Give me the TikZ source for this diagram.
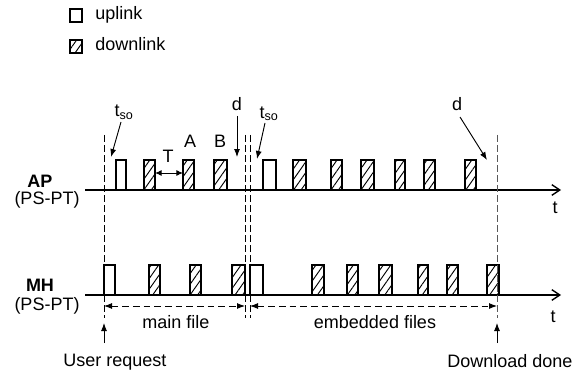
\documentclass[tikz,border=0pt]{standalone}
\usepackage{fontspec}
\setmainfont{Liberation Sans}
\usetikzlibrary{arrows.meta,patterns.meta}
\begin{document}
\begin{tikzpicture}[x=0.75pt,y=-0.75pt,
  font=\fontsize{13.5}{16}\selectfont,
  upbox/.style={draw, line width=0.9pt, fill=white},
  downbox/.style={draw, line width=0.9pt, fill=white,
    postaction={pattern={Lines[angle=55,distance=4.6pt,line width=0.7pt]}}},
  timeaxis/.style={line width=1.3pt, -{Straight Barb[length=6pt,width=8pt,line width=1pt]}},
  marker/.style={line width=0.7pt, dash pattern=on 5pt off 2.5pt},
  pointer/.style={line width=0.7pt, -{Latex[length=6pt,width=4.5pt]}},
  span/.style={line width=0.7pt, dash pattern=on 5pt off 3pt,
    {Latex[length=6pt,width=4.5pt]}-{Latex[length=6pt,width=4.5pt]}},
  lbl/.style={inner sep=0pt, anchor=base},
]
\useasboundingbox (0,0) rectangle (588,374);

% legend
\draw[upbox] (70,9) rectangle (82,22);
\node[lbl, anchor=base west] (lup) at (95,20) {uplink};
\draw[downbox] (70,40) rectangle (82,53);
\node[lbl, anchor=base west] (ldown) at (95,51) {downlink};

% station labels
\node[lbl] (ap) at (40,187) {\bfseries AP};
\node[lbl] (apsub) at (47,204) {(PS-PT)};
\node[lbl] (mh) at (40,291) {\bfseries MH};
\node[lbl] (mhsub) at (47,310) {(PS-PT)};

% time axes
\coordinate (apstart) at (85,190);
\coordinate (apend) at (561,190);
\coordinate (mhstart) at (85,295);
\coordinate (mhend) at (561,295);
\draw[timeaxis] (apstart) -- (apend);
\draw[timeaxis] (mhstart) -- (mhend);
\node[lbl] (apt) at (555,213) {t};
\node[lbl] (mht) at (553,322) {t};

% AP frames
\foreach \a/\b in {116/126, 263/276}
  \draw[upbox] (\a,160) rectangle (\b,190);
\foreach \a/\b in {144/155, 183/194, 214/227, 293/306, 331/342, 361/374, 395/405, 424/435, 465/476}
  \draw[downbox] (\a,160) rectangle (\b,190);

% MH frames
\foreach \a/\b in {104/115, 250/263}
  \draw[upbox] (\a,265) rectangle (\b,295);
\foreach \a/\b in {149/160, 190/201, 232/245, 312/324, 347/358, 379/392, 418/428, 447/458, 487/499}
  \draw[downbox] (\a,265) rectangle (\b,295);

% phase boundaries
\coordinate (m1t) at (104,135); \coordinate (m1b) at (104,318);
\coordinate (m2t) at (245,135); \coordinate (m2b) at (245,318);
\coordinate (m3t) at (250,135); \coordinate (m3b) at (250,318);
\coordinate (m4t) at (497,135); \coordinate (m4b) at (497,318);
\draw[marker] (m1t) -- (m1b);
\draw[marker] (m2t) -- (m2b);
\draw[marker] (m3t) -- (m3b);
\draw[marker, black!65] (m4t) -- (m4b);

% intervals
\coordinate (s1a) at (104,306); \coordinate (s1b) at (245,306);
\coordinate (s2a) at (250,306); \coordinate (s2b) at (497,306);
\draw[span] (s1a) -- (s1b);
\draw[span] (s2a) -- (s2b);
\node[lbl] (mainf) at (176,328) {main file};
\node[lbl] (embf) at (375,328) {embedded files};

% frame spacing and labels
\coordinate (ta) at (155,173); \coordinate (tb) at (183,173);
\draw[line width=0.7pt, {Latex[length=5pt,width=4.5pt]}-{Latex[length=5pt,width=4.5pt]}] (ta) -- (tb);
\node[lbl] (tlab) at (168,162) {T};
\node[lbl] (alab) at (190,147) {A};
\node[lbl] (blab) at (220,147) {B};

% annotations
\node[lbl] (tso1) at (124,117) {t\textsubscript{so}};
\node[lbl] (d1) at (237,111) {d};
\node[lbl] (tso2) at (269,118) {t\textsubscript{so}};
\node[lbl] (d2) at (457,111) {d};
\coordinate (tso1p) at (111,157);
\coordinate (d1p) at (237,157);
\coordinate (tso2p) at (257,159);
\coordinate (d2p) at (487,160);
\draw[pointer] (121,122) -- (tso1p);
\draw[pointer] (237,116) -- (d1p);
\draw[pointer] (265,123) -- (tso2p);
\draw[pointer] (460,117) -- (d2p);

% events
\coordinate (ureq) at (104,323);
\coordinate (dldone) at (497,323);
\node[lbl] (ureqlab) at (115,366) {User request};
\node[lbl] (dllab) at (510,367) {Download done};
\draw[pointer] (104,343) -- (ureq);
\draw[pointer] (497,343) -- (dldone);
\end{tikzpicture}
\end{document}
